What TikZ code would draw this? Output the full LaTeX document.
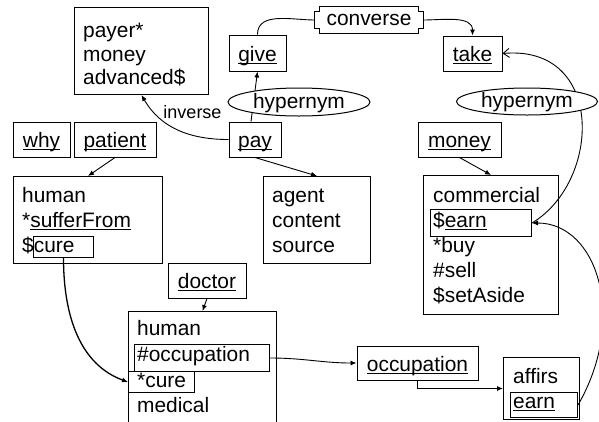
\documentclass[tikz,border=0pt]{standalone}
\usepackage{fontspec}
\setmainfont{Liberation Sans}
\usetikzlibrary{arrows.meta,shapes.geometric}
\newsavebox\uwordbox
\newcommand{\uword}[1]{\sbox\uwordbox{#1}\rlap{\rule[-2.6pt]{\wd\uwordbox}{0.9pt}}\usebox\uwordbox}
\tikzset{
    box/.style={draw, line width=1pt, inner sep=0pt},
    word/.style={box, minimum height=35pt, text height=18pt, text depth=2pt},
    frame/.style={box, anchor=north west},
    txt/.style={anchor=base west, inner sep=0pt},
    rel/.style={ellipse, draw, fill=white, line width=1pt, inner sep=0pt,
        text height=14pt, text depth=2pt},
    arr/.style={-{Latex[length=6pt,width=5pt]}, line width=0.9pt},
    barb/.style={-{Straight Barb[length=6pt,width=9pt]}, line width=0.9pt}
}
\begin{document}
\begin{tikzpicture}[x=1pt, y=-1pt, font=\fontsize{20.9}{25}\selectfont]
    \useasboundingbox (0,0) rectangle (599,421);
    \clip (0,0) rectangle (599,421);

    % 左上：payer
    \node[frame, minimum width=134pt, minimum height=87pt] (payerbox) at (74,7) {};
    \node[txt] (payer1) at (83,37) {payer*};
    \node[txt] (payer2) at (83,61) {money};
    \node[txt] (payer3) at (83,84) {advanced\$};

    % 词框
    \node[word, minimum width=57pt] (why) at (41.5,139.5) {\uword{why}};
    \node[word, minimum width=82pt] (patient) at (115,139.5) {\uword{patient}};
    \node[word, minimum width=52pt] (pay) at (255,139.5) {\uword{pay}};
    \node[word, minimum width=57pt, minimum height=36pt] (give) at (257.5,53) {\uword{give}};
    \node[word, minimum width=59pt] (take) at (472.5,53.5) {\uword{take}};
    \node[word, minimum width=83pt] (money) at (459.5,139.5) {\uword{money}};
    \node[word, minimum width=78pt] (doctor) at (207,280.5) {\uword{doctor}};
    \node[word, minimum width=121pt, minimum height=34pt] (occupation) at (417.5,363) {\uword{occupation}};

    % converse
    \node[inner sep=0pt, minimum width=108pt, minimum height=26pt,
        text height=14pt, text depth=4pt] (conv) at (369,20) {converse};
    \draw[line width=1pt] ([xshift=5pt]conv.north west) -- ([xshift=-5pt]conv.north east)
        -- ++(0,5) -- ++(5,0) -- ([yshift=5pt]conv.south east) -- ++(-5,0) -- ++(0,5)
        -- ([xshift=5pt]conv.south west) -- ++(0,-5) -- ++(-5,0)
        -- ([yshift=-5pt]conv.north west) -- ++(5,0) -- cycle;

    % patient 的框
    \node[frame, minimum width=149pt, minimum height=87pt] (humanbox) at (13,176) {};
    \node[txt] (human1) at (22,202) {human};
    \node[txt] (human2) at (22,227) {*\uword{sufferFrom}};
    \node[txt] (human3) at (22,252) {\$cure};
    \node[frame, minimum width=60pt, minimum height=21pt] (cureA) at (33,236) {};

    % pay 的框
    \node[frame, minimum width=107pt, minimum height=87pt] (agentbox) at (263,176) {};
    \node[txt] (agent1) at (272,202) {agent};
    \node[txt] (agent2) at (272,227) {content};
    \node[txt] (agent3) at (272,252) {source};

    % money 的框
    \node[frame, minimum width=135pt, minimum height=139pt] (commbox) at (423,175) {};
    \node[txt] (comm1) at (433,202) {commercial};
    \node[txt] (comm2) at (433,227) {\$\uword{earn}};
    \node[txt] (comm3) at (433,252) {*buy};
    \node[txt] (comm4) at (433,277) {\#sell};
    \node[txt] (comm5) at (433,302) {\$setAside};
    \node[frame, minimum width=101pt, minimum height=27pt] (earnA) at (430,209) {};

    % doctor 的框
    \node[frame, minimum width=148pt, minimum height=130pt] (docbox) at (128,311) {};
    \node[txt] (doc1) at (137,335) {human};
    \node[txt] (doc2) at (137,361) {\#occupation};
    \node[txt] (doc3) at (137,387) {*cure};
    \node[txt] (doc4) at (137,412) {medical};
    \node[frame, minimum width=135pt, minimum height=27pt] (occA) at (134,344) {};
    \node[frame, minimum width=66pt, minimum height=21pt] (cureB) at (128,371) {};

    % affirs
    \node[frame, minimum width=76pt, minimum height=62pt] (affbox) at (503,357) {};
    \node[txt] (aff1) at (513,383) {affirs};
    \node[txt] (aff2) at (513,408) {\uword{earn}};
    \node[frame, minimum width=67pt, minimum height=25pt] (earnB) at (510,392) {};

    % 连线
    \draw[arr] (pay.west) to[out=180,in=-60] (payerbox.south);
    \node[inner sep=0pt, font=\fontsize{18}{20}\selectfont] (inv) at (192.5,112) {inverse};
    \draw[arr] ([xshift=-4pt]pay.north) -- (give.south);
    \draw[line width=0.9pt] (give.north) to[out=90,in=180] (conv.west);
    \draw[arr] (conv.east) to[out=0,in=90] (take.north);
    \draw[barb] (earnA.east) to[out=31,in=5,out distance=81pt,in distance=103pt] (take.east);
    \draw[arr] (earnB.east) to[out=60,in=0,out distance=100pt,in distance=65pt] (earnA.east);
    \draw[arr] (patient.south) -- (humanbox.north);
    \draw[arr] (pay.south) -- (agentbox.north);
    \draw[arr] (money.south) -- (commbox.north);
    \draw[arr] (doctor.south) -- (docbox.north);
    \draw[arr, line width=1.3pt] (cureA.south) to[out=-90,in=160,out distance=60pt,in distance=50pt] (cureB.west);
    \draw[arr] (occA.east) to[out=0,in=180] (occupation.west);
    \draw[arr] (occupation.south) |- (affbox.west);

    % hypernym
    \node[rel, minimum width=142pt, minimum height=28pt] (hyp1) at (299,102) {hypernym};
    \node[rel, minimum width=141pt, minimum height=27pt] (hyp2) at (527,101.5) {hypernym};
\end{tikzpicture}
\end{document}
